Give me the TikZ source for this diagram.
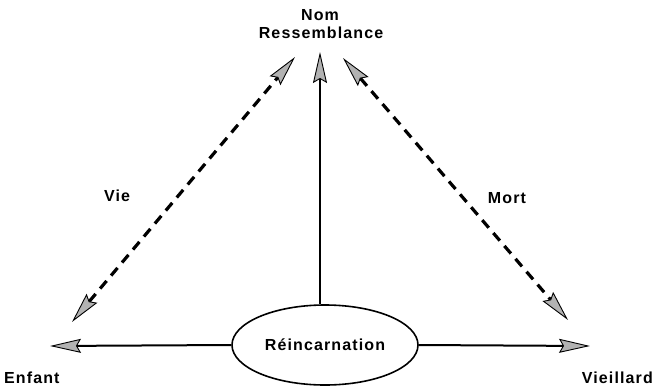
\documentclass[tikz,border=0pt]{standalone}
\usepackage{fontspec}
\setmainfont{Liberation Sans}[LetterSpace=7]
\usetikzlibrary{arrows.meta,shapes.geometric}
\tikzset{
  lbl/.style={font=\bfseries\fontsize{16}{18}\selectfont, inner sep=0pt},
  mytip/.tip={Stealth[length=31pt,width=14pt,inset=4pt,fill=gray!60,line width=0.9pt]},
  solidarr/.style={line width=2pt,-{mytip}},
  dasharr/.style={line width=3.2pt,dash pattern=on 10pt off 7pt,{mytip}-{mytip}},
}
\begin{document}
\begin{tikzpicture}[x=1pt,y=-1pt]
\useasboundingbox (0,0) rectangle (658,388);
\node[lbl] (nom) at (320,15) {Nom};
\node[lbl] (ress) at (321,33) {Ressemblance};
\node[lbl,anchor=west] (enfant) at (4,378) {Enfant};
\node[lbl,anchor=east] (vieil) at (653,378) {Vieillard};
\node[lbl] (vie) at (117,196) {Vie};
\node[lbl] (mort) at (507,198) {Mort};
\node[draw,line width=1.6pt,ellipse,minimum width=186pt,minimum height=80pt,lbl,inner sep=0pt] (rein) at (325,345) {Réincarnation};
\coordinate (topc) at (320,52);
\coordinate (tl) at (295,57);
\coordinate (tr) at (343,58);
\coordinate (bl) at (72,322);
\coordinate (br) at (568,320);
\coordinate (el) at (50,346);
\coordinate (er) at (590,346);
\draw[solidarr] (rein.north -| topc) -- (topc);
\draw[solidarr] (rein.west) -- (el);
\draw[solidarr] (rein.east) -- (er);
\draw[dasharr] (bl) -- (tl);
\draw[dasharr] (tr) -- (br);
\end{tikzpicture}
\end{document}
